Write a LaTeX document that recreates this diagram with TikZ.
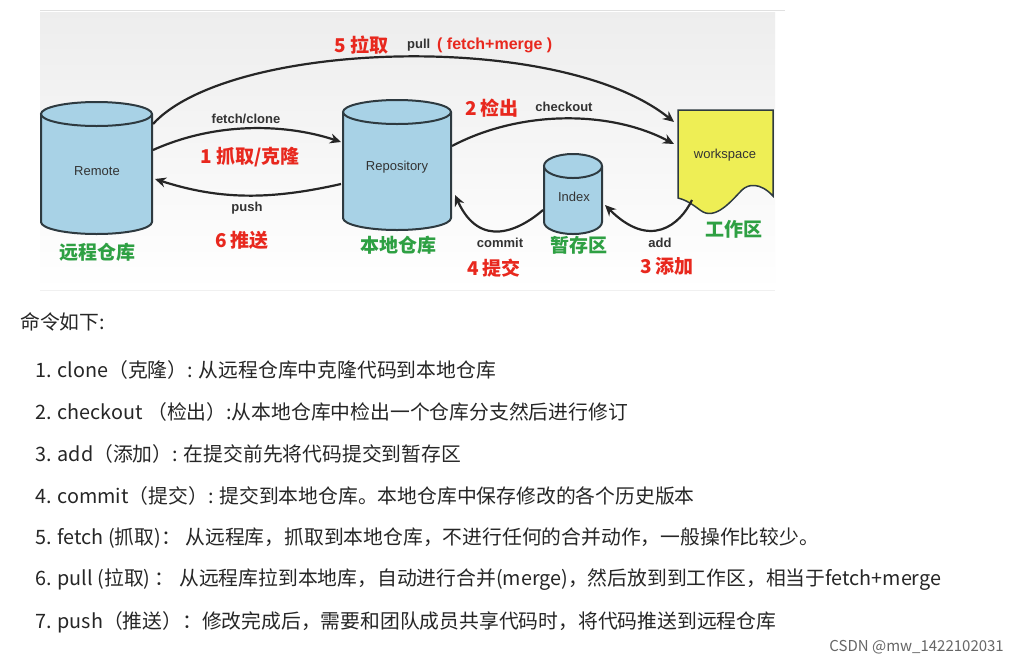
\documentclass[tikz,border=0pt]{standalone}
\usepackage{fontspec}
\setmainfont{Noto Sans CJK SC}
\newfontfamily\cjk{Noto Sans CJK SC}
\newfontfamily\lab{Liberation Sans}
\usetikzlibrary{arrows.meta}
\definecolor{cyl}{HTML}{A8D2E6}
\definecolor{cylline}{HTML}{2E3A40}
\definecolor{rd}{HTML}{E8281E}
\definecolor{gr}{HTML}{2EA043}
\definecolor{ws}{HTML}{EEEE55}
\tikzset{
  x=1pt,y=-1pt,
  conn/.style={line width=2.2pt,draw=black!85,-{Stealth[length=11pt,width=10pt]}},
  red lab/.style={text=rd,font=\cjk\bfseries\fontsize{19}{19}\selectfont,inner sep=0},
  grn lab/.style={text=gr,font=\cjk\bfseries\fontsize{19}{19}\selectfont,inner sep=0},
  sm lab/.style={text=black!80,font=\lab\bfseries\fontsize{13}{13}\selectfont,inner sep=0},
  item/.style={anchor=west,font=\cjk\fontsize{19.8}{20}\selectfont,inner sep=0,text=black!85},
}
\newcommand{\cylshape}[5]{% name, x1, x2, ytop, ybottom
  \pgfmathsetmacro{\cx}{(#2+#3)/2}\pgfmathsetmacro{\rx}{(#3-#2)/2}
  \draw[cylline,line width=2pt,fill=cyl] (#2,#4) -- (#2,#5) arc[start angle=180,end angle=360,x radius=\rx,y radius=-12] -- (#3,#4);
  \draw[cylline,line width=2pt,fill=cyl] (\cx,#4) ellipse[x radius=\rx,y radius=12];
  \node[inner sep=0] (#1) at (\cx,{(#4+#5)/2+4}) {};
}
\begin{document}
\begin{tikzpicture}
\useasboundingbox (0,0) rectangle (1011,665);
\fill[white] (0,0) rectangle (1011,665);
\shade[top color=black!7,bottom color=white] (40,12) rectangle (775,290);
\draw[black!12,line width=1pt] (40,10) -- (785,10);
\draw[black!6,line width=1pt] (40,290) -- (775,290);
% cylinders
\cylshape{remote}{41}{152}{114}{222}
\node[font=\lab\fontsize{13}{13}\selectfont,text=black!80] at (97,171) {Remote};
\cylshape{repo}{343}{451}{112}{218}
\node[font=\lab\fontsize{13}{13}\selectfont,text=black!80] at (397,167) {Repository};
\cylshape{index}{544}{602}{166}{222}
\node[font=\lab\fontsize{13}{13}\selectfont,text=black!80] at (574,197) {Index};
% workspace
\draw[cylline,line width=1.5pt,fill=ws] (678,110) -- (773,110) -- (773,196)
  .. controls (760,182) and (748,184) .. (742,190)
  .. controls (732,200) and (715,222) .. (700,210)
  .. controls (692,204) and (686,200) .. (678,198) -- cycle;
\node[font=\lab\fontsize{13}{13}\selectfont,text=black!80] (ws) at (725,155) {workspace};
% coordinates
\coordinate (rA) at (153,124); \coordinate (wA) at (674,122);
\coordinate (rB) at (153,150); \coordinate (pB) at (341,142);
\coordinate (pC) at (341,184); \coordinate (rC) at (155,179);
\coordinate (pD) at (452,146); \coordinate (wD) at (674,144);
\coordinate (iE) at (543,210); \coordinate (pE) at (455,195);
\coordinate (wF) at (692,200); \coordinate (iF) at (605,205);
\draw[conn] (rA) .. controls (230,40) and (560,30) .. (wA);
\draw[conn] (rB) .. controls (220,120) and (290,125) .. (pB);
\draw[conn] (pC) .. controls (270,200) and (220,200) .. (rC);
\draw[conn] (pD) .. controls (520,110) and (610,110) .. (wD);
\draw[conn] (iE) .. controls (520,230) and (480,250) .. (pE);
\draw[conn] (wF) .. controls (680,225) and (650,250) .. (iF);
% labels
\node[red lab,anchor=west] at (334,45) {5 拉取};
\node[sm lab,anchor=west] at (407,45) {pull};
\node[text=rd,font=\lab\bfseries\fontsize{16}{16}\selectfont,anchor=west,inner sep=0] at (437,45) {( fetch+merge )};
\node[sm lab] at (246,119) {fetch/clone};
\node[red lab] at (250,157) {1 抓取/克隆};
\node[sm lab] at (247,208) {push};
\node[red lab] at (242,240) {6 推送};
\node[red lab] at (492,108) {2 检出};
\node[sm lab] at (564,107) {checkout};
\node[sm lab] at (500,243) {commit};
\node[red lab] at (494,268) {4 提交};
\node[sm lab] at (660,243) {add};
\node[red lab] at (667,266) {3 添加};
\node[grn lab] at (97,252) {远程仓库};
\node[grn lab] at (398,245) {本地仓库};
\node[grn lab] at (579,245) {暂存区};
\node[grn lab] at (734,229) {工作区};
% text list
\node[item] at (20,322) {命令如下:};
\node[item] at (35,370) {1. clone（克隆）: 从远程仓库中克隆代码到本地仓库};
\node[item] at (35,412) {2. checkout （检出）:从本地仓库中检出一个仓库分支然后进行修订};
\node[item] at (35,454) {3. add（添加）: 在提交前先将代码提交到暂存区};
\node[item] at (35,496) {4. commit（提交）: 提交到本地仓库。本地仓库中保存修改的各个历史版本};
\node[item] at (35,538) {5. fetch (抓取)：\ 从远程库，抓取到本地仓库，不进行任何的合并动作，一般操作比较少。};
\node[item] at (35,580) {6. pull (拉取) ：\ 从远程库拉到本地库，自动进行合并(merge)，然后放到到工作区，相当于fetch+merge};
\node[item] at (35,622) {7. push（推送）：修改完成后，需要和团队成员共享代码时，将代码推送到远程仓库};
\node[anchor=east,font=\cjk\fontsize{15}{15}\selectfont,text=black!60,inner sep=0] at (1004,647) {CSDN @mw\_1422102031};
\end{tikzpicture}
\end{document}
